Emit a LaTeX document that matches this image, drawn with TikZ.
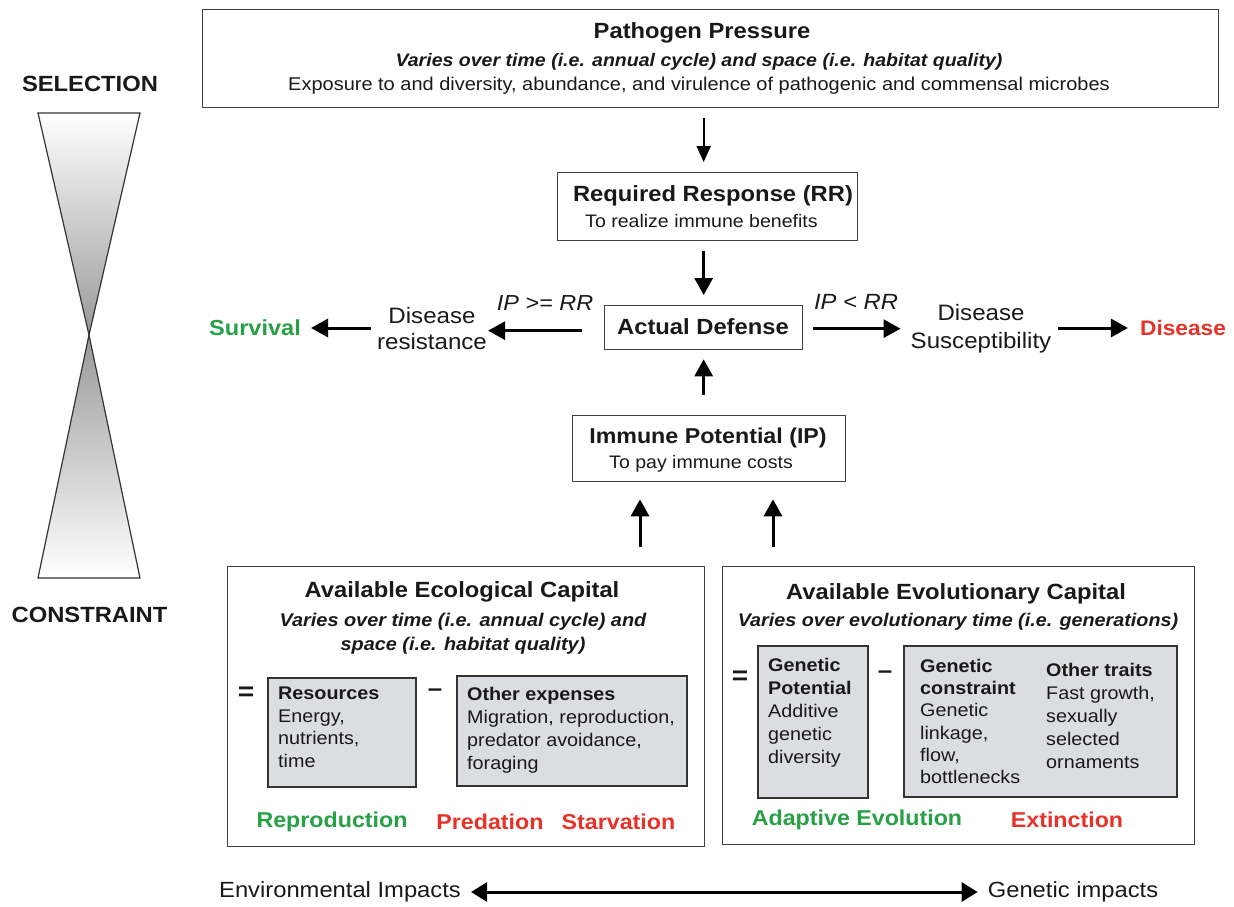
\documentclass[tikz,border=0pt]{standalone}
\usepackage{fontspec}
\setmainfont[FakeStretch=1.08]{Liberation Sans}
\usetikzlibrary{arrows.meta}
\definecolor{boxgray}{RGB}{220,221,225}
\definecolor{okgreen}{RGB}{40,160,70}
\definecolor{badred}{RGB}{230,50,40}
\newcommand{\fs}[2]{\fontsize{#1}{#2}\selectfont}
\tikzset{
  box/.style={draw=black!75, line width=1.3pt, inner sep=0pt, anchor=north west},
  gbox/.style={draw=black!80, fill=boxgray, line width=1.5pt, inner sep=0pt, anchor=north west},
  arr/.style={line width=3pt, -{Triangle[length=17pt,width=18pt]}},
  arrthin/.style={line width=2pt, -{Triangle[length=16pt,width=14pt]}},
  dblarr/.style={line width=3pt, {Triangle[length=16pt,width=19pt]}-{Triangle[length=16pt,width=19pt]}},
  t/.style={inner sep=0pt, text=black!90},
  ml/.style={inner sep=0pt, anchor=north west, align=left, text=black!90},
}
\begin{document}
\begin{tikzpicture}[x=1pt,y=-1pt]
\useasboundingbox (0,0) rectangle (1234,906);
% hourglass
\shade[top color=white, bottom color=black!40] (38,113) -- (140,113) -- (89,335) -- cycle;
\shade[top color=black!40, bottom color=white] (89,335) -- (140,578) -- (38,578) -- cycle;
\draw[line width=1.2pt, black!80, line join=miter] (38,113) -- (140,113) -- (89,335) -- cycle;
\draw[line width=1.2pt, black!80, line join=miter] (89,335) -- (140,578) -- (38,578) -- cycle;
\node[t, font=\bfseries\fs{22}{26}] (sel) at (90,84) {SELECTION};
\node[t, font=\bfseries\fs{22}{26}] (con) at (89.5,615) {CONSTRAINT};

% boxes
\node[box, minimum width=1016pt, minimum height=98pt] (pp) at (202,9) {};
\node[box, minimum width=300pt, minimum height=68pt] (rr) at (557,172) {};
\node[box, minimum width=198pt, minimum height=44pt] (ad) at (604,305) {};
\node[box, minimum width=273pt, minimum height=66pt] (ip) at (572,415) {};
\node[box, minimum width=477pt, minimum height=280pt] (eco) at (227,566) {};
\node[box, minimum width=472pt, minimum height=278pt] (evo) at (722,566) {};
\node[gbox, minimum width=148pt, minimum height=109pt] (res) at (267,677) {};
\node[gbox, minimum width=230pt, minimum height=110pt] (oth) at (456,675) {};
\node[gbox, minimum width=110pt, minimum height=152pt] (gp) at (757,645) {};
\node[gbox, minimum width=273pt, minimum height=151pt] (gc) at (903,645) {};

% top box texts
\node[t, font=\bfseries\fs{22}{26}] (ppt) at (702,33) {Pathogen Pressure};
\node[t, font=\bfseries\itshape\fs{18.1}{22}] (ppv) at (699,62) {Varies over time (i.e. annual cycle) and space (i.e. habitat quality)};
\node[t, font=\fs{18.5}{22}] (ppe) at (699,86) {Exposure to and diversity, abundance, and virulence of pathogenic and commensal microbes};

\node[t, font=\bfseries\fs{22}{26}] (rrt) at (713,196) {Required Response (RR)};
\node[t, font=\fs{18.1}{22}, anchor=west] (rrs) at (585,221) {To realize immune benefits};

\node[t, font=\bfseries\fs{22}{26}] (adt) at (703,327) {Actual Defense};

\node[t, font=\bfseries\fs{21.5}{26}] (ipt) at (708,438) {Immune Potential (IP)};
\node[t, font=\fs{18.1}{22}, anchor=west] (ips) at (609,464) {To pay immune costs};

% side texts
\node[t, font=\itshape\fs{21.7}{26}] (ge) at (545,303) {IP >= RR};
\node[t, font=\fs{22.3}{26}, align=center] (dr) at (432,329) {Disease\\resistance};
\node[t, font=\bfseries\fs{21.8}{26}, text=okgreen] (surv) at (255,328) {Survival};
\node[t, font=\itshape\fs{22}{26}] (lt) at (856,302) {IP < RR};
\node[t, font=\fs{22.3}{28}, align=center] (ds) at (981,329) {Disease\\Susceptibility};
\node[t, font=\bfseries\fs{21}{26}, text=badred] (dis) at (1183,328) {Disease};

% ecological capital
\node[t, font=\bfseries\fs{22}{26}] (ecot) at (462,592) {Available Ecological Capital};
\node[t, font=\bfseries\itshape\fs{18.4}{24}, align=center] (ecov) at (463,634) {Varies over time (i.e. annual cycle) and\\space (i.e. habitat quality)};
\node[t, font=\bfseries\fs{26}{26}] (eq1) at (246,694) {=};
\node[t, font=\bfseries\fs{24}{26}] (mi1) at (435,693) {--};
\node[ml, font=\fs{18.3}{22.5}] (rest) at (278,687) {\textbf{Resources}\\Energy,\\nutrients,\\time};
\node[ml, font=\fs{18.3}{23}] (otht) at (467,687) {\textbf{Other expenses}\\Migration, reproduction,\\predator avoidance,\\foraging};
\node[t, font=\bfseries\fs{21.5}{26}, text=okgreen] (repr) at (332,822) {Reproduction};
\node[t, font=\bfseries\fs{21.5}{26}, text=badred] (pred) at (490,822) {Predation};
\node[t, font=\bfseries\fs{21.5}{26}, text=badred] (starv) at (618.5,822) {Starvation};

% evolutionary capital
\node[t, font=\bfseries\fs{22}{26}] (evot) at (956,594) {Available Evolutionary Capital};
\node[t, font=\bfseries\itshape\fs{18.3}{24}] (evov) at (958,622) {Varies over evolutionary time (i.e. generations)};
\node[t, font=\bfseries\fs{26}{26}] (eq2) at (740,678) {=};
\node[t, font=\bfseries\fs{24}{26}] (mi2) at (885,675) {--};
\node[ml, font=\fs{18.3}{23}] (gpt) at (768,658) {\textbf{Genetic}\\\textbf{Potential}\\Additive\\genetic\\diversity};
\node[ml, font=\fs{18.3}{22.2}] (gct) at (920,659) {\textbf{Genetic}\\\textbf{constraint}\\Genetic\\linkage,\\flow,\\bottlenecks};
\node[ml, font=\fs{18.3}{23}] (ott) at (1046,663) {\textbf{Other traits}\\Fast growth,\\sexually\\selected\\ornaments};
\node[t, font=\bfseries\fs{21.5}{26}, text=okgreen] (adev) at (857,820) {Adaptive Evolution};
\node[t, font=\bfseries\fs{21.5}{26}, text=badred] (ext) at (1067,820) {Extinction};

% bottom
\node[t, font=\fs{22}{26}] (env) at (340,892) {Environmental Impacts};
\node[t, font=\fs{22}{26}] (gen) at (1073,892) {Genetic impacts};

% connectors
\draw[arrthin, shorten <=10pt, shorten >=10pt] (pp.south -| ad.center) -- (rr.north -| ad.center);
\draw[arr, shorten <=10pt, shorten >=10pt] (rr.south -| ad.center) -- (ad.north);
\draw[arr, shorten <=20pt, shorten >=9pt] (ip.north -| ad.center) -- (ad.south);
\draw[arr, shorten <=22pt, shorten >=1pt] ([yshift=-3pt]ad.west) -- ([yshift=-3pt]ad.west -| dr.east);
\draw[arr, shorten <=6pt, shorten >=10pt] (dr.west |- surv.center) -- (surv.east);
\draw[arr, shorten <=10pt, shorten >=10pt] ([yshift=-1pt]ad.east) -- ([yshift=-1pt]ad.east -| ds.west);
\draw[arr, shorten <=7pt, shorten >=12pt] (ds.east |- dis.center) -- (dis.west);
\draw[arr, shorten <=19pt, shorten >=17pt] (eco.north -| 640,0) -- (ip.south -| 640,0);
\draw[arr, shorten <=19pt, shorten >=17pt] (evo.north -| 773,0) -- (ip.south -| 773,0);
\draw[dblarr, shorten <=10pt, shorten >=10pt] (env.east) -- (gen.west);
\end{tikzpicture}
\end{document}
